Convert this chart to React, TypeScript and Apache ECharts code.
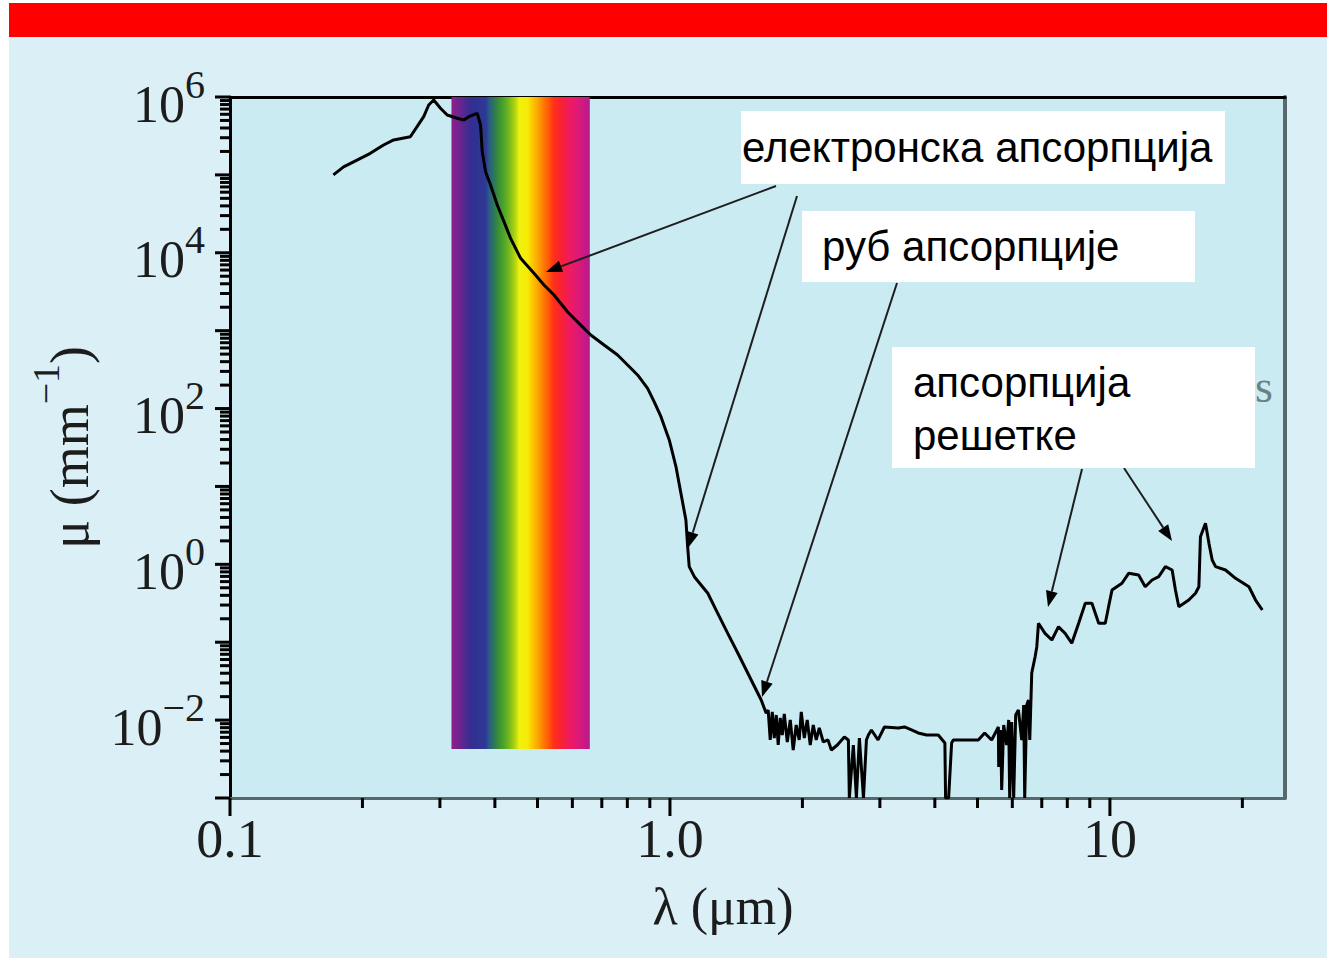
import React, { useEffect, useRef } from "react";
import * as echarts from "echarts";

// ---- data: absorption coefficient vs wavelength ----
const wavelengthUm = [
  0.1718, 0.1812, 0.1944, 0.2084, 0.2234, 0.2355, 0.257, 0.2662, 0.2756, 0.2829,
  0.2904, 0.3009, 0.3117, 0.3284, 0.34, 0.3489, 0.3648, 0.3711, 0.3744, 0.381,
  0.3911, 0.405, 0.4194, 0.4343, 0.4577, 0.4908, 0.5173, 0.5451, 0.5848, 0.627,
  0.6607, 0.7084, 0.7603, 0.8012, 0.8441, 0.8896, 0.921, 0.954, 0.9963, 1.032,
  1.059, 1.087, 1.097, 1.106, 1.136, 1.219, 1.284, 1.353, 1.427, 1.53,
  1.612, 1.655,
  1.672, 1.69, 1.708, 1.726, 1.744, 1.762, 1.781, 1.8, 1.819, 1.848,
  1.877, 1.906, 1.936, 1.967, 1.988, 2.02, 2.051, 2.084, 2.117, 2.15,
  2.185, 2.231, 2.287, 2.327, 2.401, 2.491, 2.544, 2.557, 2.611, 2.653,
  2.695, 2.753, 2.796, 2.825, 2.87, 2.972, 3.072, 3.302, 3.412, 3.54,
  3.666, 3.829, 4.072, 4.216, 4.231, 4.299, 4.367, 4.405, 4.673, 5.022,
  5.191, 5.385, 5.578, 5.587, 5.646, 5.675, 5.735, 5.826, 5.887, 5.918,
  5.98, 6.043, 6.107, 6.194, 6.302, 6.369, 6.402, 6.47, 6.529, 6.574,
  6.642,
  6.76, 6.82, 6.88, 7.12, 7.38, 7.64, 7.91, 8.19, 8.49, 8.79,
  9.1, 9.43, 9.76, 9.93, 10.11, 10.65, 11.03, 11.62, 12.03, 12.47,
  12.91, 13.37, 13.85, 14.09, 14.34, 15.11, 15.65, 15.93, 16.06, 16.49,
  16.79, 17.08, 17.38, 18.31, 19.3, 20.7, 21.43, 22.2,
];
const absorptionPerMm = [
  1.0e5, 1.27e5, 1.55e5, 1.89e5, 2.42e5, 2.81e5, 3.09e5, 4.16e5, 5.59e5, 7.89e5,
  9.15e5, 7.16e5, 5.88e5, 5.33e5, 5.07e5, 5.59e5, 6.18e5, 4.37e5, 1.99e5, 1.1e5,
  7.42e4, 4.11e4, 2.51e4, 1.53e4, 8490, 5450, 3860, 2870, 1750, 1180,
  880, 655, 487, 363, 270, 182, 122, 78.6, 39.5, 17.9,
  8.17, 3.71, 1.685, 0.933, 0.694, 0.425, 0.235, 0.13, 0.0721, 0.0327,
  0.0181, 0.01224,
  0.01349, 0.00556, 0.01272, 0.00589, 0.01163, 0.00479, 0.01065, 0.00644, 0.01199, 0.00524,
  0.01004, 0.00413, 0.00866, 0.00556, 0.01272, 0.00589, 0.01004, 0.00479, 0.00866, 0.00556,
  0.00792, 0.00524, 0.00556, 0.00413, 0.00479, 0.00607, 0.00556, 0.001, 0.00479, 0.001,
  0.00589, 0.001, 0.00556, 0.00644, 0.00747, 0.00556, 0.00816, 0.00792, 0.00816, 0.00747,
  0.00684, 0.00644, 0.00644, 0.00508, 0.001, 0.001, 0.00508, 0.00556, 0.00556, 0.00556,
  0.00684, 0.00556, 0.00816, 0.0025, 0.00747, 0.00127, 0.00866, 0.00479, 0.01004, 0.001,
  0.00946, 0.001, 0.01163, 0.01349, 0.00556, 0.01564, 0.001, 0.01564, 0.0181, 0.00556,
  0.0403,
  0.0652, 0.0876, 0.175, 0.13, 0.1068, 0.1583, 0.13, 0.0969, 0.175, 0.316,
  0.316, 0.175, 0.175, 0.286, 0.468, 0.571, 0.767, 0.73, 0.516, 0.629,
  0.694, 0.933, 0.846, 0.468, 0.286, 0.348, 0.425, 0.516, 2.26, 3.36,
  1.86, 1.137, 0.933, 0.846, 0.662, 0.516, 0.348, 0.259,
];

// visible spectrum band (wavelength range, absorption range)
const spectrumLambda = [0.3187, 0.6574];
const spectrumMu = [0.00426, 1e6];

// axes
const xRange = [0.1, 25];
const yRange = [1e-3, 1e6];
const xLabelValues = [0.1, 1, 10];
const xLabelTexts = ["0.1", "1.0", "10"];
const yLabelExponents = [-2, 0, 2, 4, 6];
const xMajorTicks = [0.1, 1, 10];
const xMinorTicks = [0.2, 0.3, 0.4, 0.5, 0.6, 0.7, 0.8, 0.9, 2, 3, 4, 5, 6, 7, 8, 9, 20];
const yDecades = [-3, -2, -1, 0, 1, 2, 3, 4, 5, 6];
const yMinorMultipliers = [2, 3, 4, 5, 6, 7, 8, 9];

// annotations
const labelElectronic = "електронска апсорпција";
const labelEdge = "руб апсорпције";
const labelLatticeLines = ["апсорпција", "решетке"];

const SERIF = "'Liberation Serif', 'Times New Roman', serif";
const SANS = "'Liberation Sans', Arial, sans-serif";

function arrow(x1: number, y1: number, x2: number, y2: number) {
  const ang = Math.atan2(y2 - y1, x2 - x1);
  const L = 16;
  const W = 6;
  const bx = x2 - L * Math.cos(ang);
  const by = y2 - L * Math.sin(ang);
  const px = -Math.sin(ang) * W;
  const py = Math.cos(ang) * W;
  return [
    {
      type: "line",
      z: 50,
      shape: { x1, y1, x2: bx, y2: by },
      style: { stroke: "#1e1e1e", lineWidth: 2 },
    },
    {
      type: "polygon",
      z: 50,
      shape: { points: [[x2, y2], [bx + px, by + py], [bx - px, by - py]] },
      style: { fill: "#000" },
    },
  ];
}

export default function App() {
  const ref = useRef<HTMLDivElement>(null);

  useEffect(() => {
    if (!ref.current) return;
    const chart = echarts.init(ref.current, undefined, { renderer: "svg" });

    const lineData = wavelengthUm.map((x, i) => [x, absorptionPerMm[i]]);
    const yMajorTicks = yDecades.map((e) => Math.pow(10, e));
    const yMinorTicks: number[] = [];
    yDecades.slice(0, -1).forEach((e) =>
      yMinorMultipliers.forEach((m) => yMinorTicks.push(m * Math.pow(10, e)))
    );

    const spectrumGradient = new echarts.graphic.LinearGradient(0, 0, 1, 0, [
      { offset: 0.0, color: "#8e1f8c" },
      { offset: 0.06, color: "#6b248f" },
      { offset: 0.13, color: "#3a2d92" },
      { offset: 0.17, color: "#2e3192" },
      { offset: 0.25, color: "#2e3a92" },
      { offset: 0.27, color: "#2a5a8c" },
      { offset: 0.31, color: "#2d7a55" },
      { offset: 0.34, color: "#3a8f35" },
      { offset: 0.38, color: "#4ea52a" },
      { offset: 0.42, color: "#7bbb1c" },
      { offset: 0.46, color: "#b4d412" },
      { offset: 0.49, color: "#eef20c" },
      { offset: 0.55, color: "#f7ea06" },
      { offset: 0.58, color: "#fbcc00" },
      { offset: 0.62, color: "#fbaa00" },
      { offset: 0.66, color: "#fd7f00" },
      { offset: 0.7, color: "#ff5a0a" },
      { offset: 0.74, color: "#ff3018" },
      { offset: 0.8, color: "#f82038" },
      { offset: 0.86, color: "#ee1a62" },
      { offset: 0.93, color: "#d8197c" },
      { offset: 1.0, color: "#b41a8e" },
    ]);

    const tickSeries = (data: number[], axis: "x" | "y", len: number) => ({
      type: "custom",
      silent: true,
      clip: false,
      z: 6,
      xAxisIndex: 0,
      yAxisIndex: 0,
      data: data.map((v) => (axis === "x" ? [v, yRange[0]] : [xRange[0], v])),
      renderItem: (_p: any, api: any) => {
        const p = api.coord([api.value(0), api.value(1)]);
        return axis === "x"
          ? {
              type: "line",
              shape: { x1: p[0], y1: p[1], x2: p[0], y2: p[1] + len },
              style: { stroke: "#000", lineWidth: 3 },
            }
          : {
              type: "line",
              shape: { x1: p[0] - len, y1: p[1], x2: p[0], y2: p[1] },
              style: { stroke: "#000", lineWidth: 3 },
            };
      },
    });

    const textColor = "#1c1c1c";

    chart.setOption({
      animation: false,
      grid: {
        left: 230,
        top: 97,
        right: 42,
        bottom: 160,
        show: true,
        backgroundColor: "#cbebf2",
        borderWidth: 0,
      },
      xAxis: [
        {
          type: "log",
          logBase: 10,
          min: xRange[0],
          max: xRange[1],
          interval: 1,
          position: "bottom",
          splitLine: { show: false },
          axisTick: { show: false },
          axisLine: { show: true, lineStyle: { color: "#56686b", width: 3 } },
          axisLabel: {
            margin: 14,
            color: textColor,
            fontFamily: SERIF,
            fontSize: 54,
            formatter: (v: number) => {
              const i = xLabelValues.findIndex(
                (xv) => Math.abs(Math.log10(v) - Math.log10(xv)) < 1e-6
              );
              return i >= 0 ? xLabelTexts[i] : "";
            },
          },
          name: "λ (μm)",
          nameLocation: "middle",
          nameGap: 82,
          nameTextStyle: {
            fontFamily: SERIF,
            fontSize: 52,
            color: textColor,
            padding: [0, 69, 0, 0],
          },
        },
        {
          type: "log",
          logBase: 10,
          min: xRange[0],
          max: xRange[1],
          position: "top",
          axisTick: { show: false },
          axisLabel: { show: false },
          splitLine: { show: false },
          axisLine: { show: true, lineStyle: { color: "#000", width: 3 } },
        },
      ],
      yAxis: [
        {
          type: "log",
          logBase: 10,
          min: yRange[0],
          max: yRange[1],
          interval: 1,
          position: "left",
          splitLine: { show: false },
          axisTick: { show: false },
          axisLine: { show: true, lineStyle: { color: "#000", width: 3 } },
          axisLabel: {
            margin: 25,
            color: textColor,
            formatter: (v: number) => {
              const l = Math.log10(v);
              const e = Math.round(l);
              if (Math.abs(l - e) > 1e-6 || !yLabelExponents.includes(e)) return "";
              const sup = e < 0 ? "−" + -e : String(e);
              return `{h| }{b|10}{s|${sup}}`;
            },
            rich: {
              h: { fontSize: 1, lineHeight: 66 },
              b: {
                fontFamily: SERIF,
                fontSize: 52,
                lineHeight: 52,
                verticalAlign: "bottom",
                color: textColor,
              },
              s: {
                fontFamily: SERIF,
                fontSize: 40,
                lineHeight: 40,
                verticalAlign: "top",
                color: textColor,
              },
            },
          },
          name: "{h| }{a|μ (mm}{s|−1}{a|)}",
          nameLocation: "middle",
          nameRotate: 90,
          nameGap: 133,
          nameTextStyle: {
            color: textColor,
            rich: {
              h: { fontSize: 1, lineHeight: 70 },
              a: {
                fontFamily: SERIF,
                fontSize: 54,
                lineHeight: 60,
                verticalAlign: "bottom",
                color: textColor,
              },
              s: {
                fontFamily: SERIF,
                fontSize: 38,
                lineHeight: 38,
                verticalAlign: "top",
                color: textColor,
              },
            },
          },
        },
        {
          type: "log",
          logBase: 10,
          min: yRange[0],
          max: yRange[1],
          position: "right",
          axisTick: { show: false },
          axisLabel: { show: false },
          splitLine: { show: false },
          axisLine: { show: true, lineStyle: { color: "#56686b", width: 4 } },
        },
      ],
      series: [
        {
          type: "custom",
          silent: true,
          xAxisIndex: 0,
          yAxisIndex: 0,
          z: 2,
          encode: { x: [0, 2], y: [1, 3] },
          data: [[spectrumLambda[0], spectrumMu[1], spectrumLambda[1], spectrumMu[0]]],
          renderItem: (_p: any, api: any) => {
            const a = api.coord([api.value(0), api.value(1)]);
            const b = api.coord([api.value(2), api.value(3)]);
            return {
              type: "rect",
              shape: { x: a[0], y: a[1], width: b[0] - a[0], height: b[1] - a[1] },
              style: { fill: spectrumGradient },
            };
          },
        },
        {
          type: "line",
          xAxisIndex: 0,
          yAxisIndex: 0,
          z: 3,
          data: lineData,
          showSymbol: false,
          symbol: "none",
          silent: true,
          lineStyle: { color: "#000", width: 3 },
        },
        tickSeries(xMajorTicks, "x", 18),
        tickSeries(xMinorTicks, "x", 10),
        tickSeries(yMajorTicks, "y", 15),
        tickSeries(yMinorTicks, "y", 10),
      ],
      graphic: {
        elements: [
          {
            type: "text",
            z: 40,
            x: 1255,
            y: 386,
            style: {
              text: "s",
              font: `46px ${SERIF}`,
              fill: "#6e7f82",
              align: "left",
              verticalAlign: "middle",
            },
          },
          ...arrow(776, 186, 546, 272),
          ...arrow(797, 196, 688, 548),
          ...arrow(897, 283, 762, 697),
          ...arrow(1082, 469, 1048, 607),
          ...arrow(1124, 468, 1172, 541),
          {
            type: "rect",
            z: 60,
            shape: { x: 741, y: 111, width: 484, height: 73 },
            style: { fill: "#ffffff" },
          },
          {
            type: "text",
            z: 61,
            x: 742,
            y: 147,
            style: {
              text: labelElectronic,
              font: `42px ${SANS}`,
              fill: "#000",
              align: "left",
              verticalAlign: "middle",
            },
          },
          {
            type: "rect",
            z: 60,
            shape: { x: 802, y: 211, width: 393, height: 71 },
            style: { fill: "#ffffff" },
          },
          {
            type: "text",
            z: 61,
            x: 822,
            y: 246,
            style: {
              text: labelEdge,
              font: `42px ${SANS}`,
              fill: "#000",
              align: "left",
              verticalAlign: "middle",
            },
          },
          {
            type: "rect",
            z: 60,
            shape: { x: 892, y: 347, width: 363, height: 121 },
            style: { fill: "#ffffff" },
          },
          {
            type: "text",
            z: 61,
            x: 913,
            y: 382,
            style: {
              text: labelLatticeLines[0],
              font: `42px ${SANS}`,
              fill: "#000",
              align: "left",
              verticalAlign: "middle",
            },
          },
          {
            type: "text",
            z: 61,
            x: 913,
            y: 435,
            style: {
              text: labelLatticeLines[1],
              font: `42px ${SANS}`,
              fill: "#000",
              align: "left",
              verticalAlign: "middle",
            },
          },
        ],
      },
    });

    return () => chart.dispose();
  }, []);

  return (
    <div style={{ position: "absolute", left: 0, top: 0, width: 1327, height: 958 }}>
      <div
        style={{
          position: "absolute",
          left: 9,
          top: 3,
          width: 1318,
          height: 955,
          background: "#daf0f6",
        }}
      />
      <div
        style={{
          position: "absolute",
          left: 9,
          top: 3,
          width: 1318,
          height: 34,
          background: "#ff0000",
        }}
      />
      <div
        ref={ref}
        style={{ position: "absolute", left: 0, top: 0, width: 1327, height: 958 }}
      />
    </div>
  );
}
